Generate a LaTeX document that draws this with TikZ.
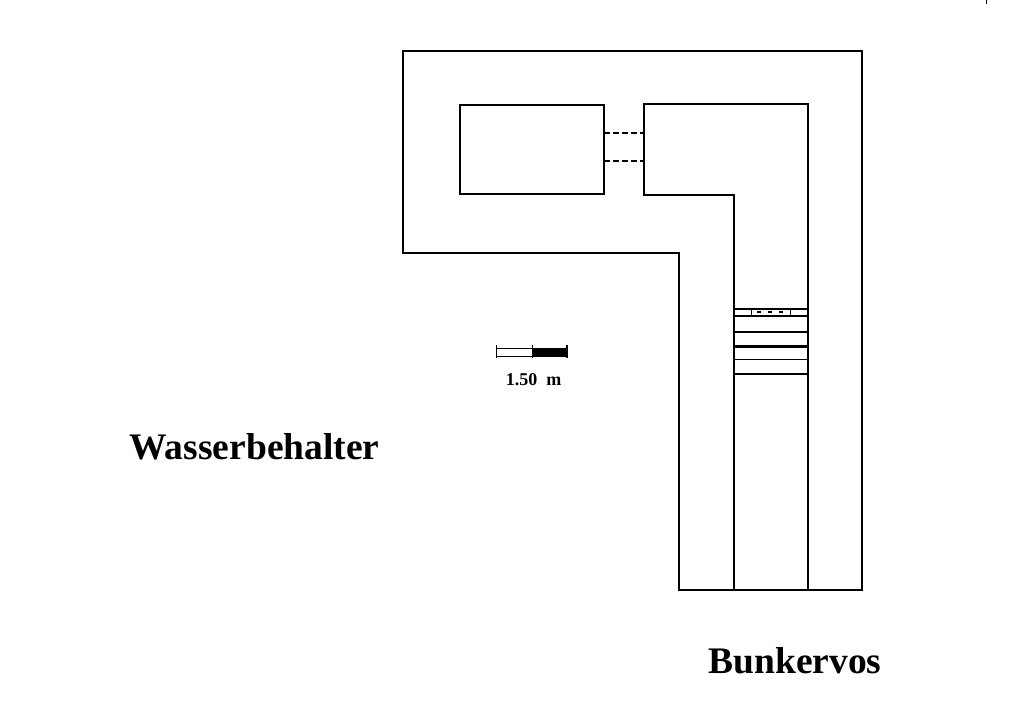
\documentclass[tikz,border=0pt]{standalone}
\usepackage{fontspec}
\setmainfont{Liberation Serif}
\begin{document}
\begin{tikzpicture}[
  x = 1pt, y = -1pt,
  wall/.style = {line width = 1.8pt, line join = miter},
  thinwall/.style = {line width = 0.9pt},
  dashwall/.style = {line width = 1.6pt, dash pattern = on 6pt off 3pt},
  title/.style = {font = \bfseries\fontsize{37.5}{37.5}\selectfont, inner sep = 0pt},
  scaletext/.style = {font = \bfseries\fontsize{18}{18}\selectfont, inner sep = 0pt}
  ]
  \useasboundingbox (0,0) rectangle (1024,723);
  \fill[white] (0,0) rectangle (1024,723);
  % outer wall
  \draw[wall] (403,51) -- (862,51) -- (862,590) -- (679,590) -- (679,253) -- (403,253) -- cycle;
  % tunnel
  \draw[wall] (734,590) -- (734,195) -- (644,195) -- (644,104) -- (808,104) -- (808,590);
  % room
  \draw[wall] (460,105) rectangle (604,194);
  \draw[dashwall] (604,133) -- (644,133);
  \draw[dashwall] (604,161) -- (644,161);
  % cross lines
  \draw[wall] (734,309) -- (808,309);
  \draw[wall] (734,316) -- (808,316);
  \draw[wall] (734,332) -- (808,332);
  \draw[line width = 3pt] (734,346.5) -- (808,346.5);
  \draw[thinwall] (734,359) -- (808,359);
  \draw[wall] (734,374) -- (808,374);
  \draw[thinwall] (751,309) -- (751,316);
  \draw[thinwall] (790,309) -- (790,316);
  \draw[line width = 1.6pt, dash pattern = on 4pt off 7pt] (757,312) -- (785,312);
  % scale bar
  \fill (532,348) rectangle (567,356.5);
  \draw[thinwall] (496,348) -- (567,348);
  \draw[thinwall] (496,356.5) -- (567,356.5);
  \draw[thinwall] (496,345) -- (496,358);
  \draw[thinwall] (532,345) -- (532,358);
  \draw[wall] (567,345) -- (567,358);
  \node[scaletext] (scalelabel) at (533.5,380) {1.50\hspace{0.5em}m};
  % names
  \node[title] (wasser) at (254.5,447) {Wasserbehalter};
  \node[title] (bunker) at (795,661) {Bunkervos};
  \draw[thinwall] (986,0) -- (986,4);
\end{tikzpicture}
\end{document}
